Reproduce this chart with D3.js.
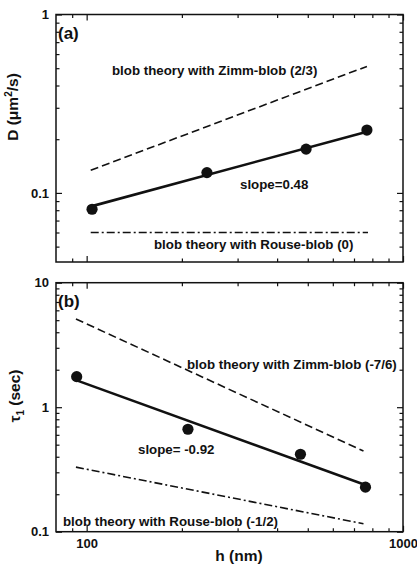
<!DOCTYPE html>
<html>
<head>
<meta charset="utf-8">
<script src="https://cdn.jsdelivr.net/npm/d3@7"></script>
<style>
  html, body { margin: 0; padding: 0; background: #fff; }
  svg text { font-family: "Liberation Sans", Arial, sans-serif; fill: #111; }
</style>
</head>
<body>
<svg id="fig" width="417" height="566"></svg>
<script>
// Measured data: film thickness h (nm)
const hA = [104, 240, 494, 769];
const diffA = [0.081, 0.130, 0.176, 0.225];      // D (um^2/s)
const hB = [93, 209, 474, 761];
const tauB = [1.76, 0.665, 0.419, 0.228];        // tau_1 (sec)

// Fitted power-law slopes
const slopeA = 0.48;
const slopeB = -0.92;

// Blob-theory scaling lines: [h start, h end], value at start, exponent
const zimmA = { h: [103, 769], v0: 0.134, exp: 2 / 3 };
const rouseA = { h: [103, 775], v0: 0.06, exp: 0 };
const zimmB = { h: [92.5, 750], v0: 5.11, exp: -7 / 6 };
const rouseB = { h: [92.5, 750], v0: 0.33, exp: -1 / 2 };

// Axis ticks
const xDomain = [80, 1000];
const xMajor = [100, 1000];
const xMinor = [90, 200, 300, 400, 500, 600, 700, 800, 900];
const yDomainA = [0.041, 1];
const yMajorA = [0.1, 1];
const yMinorA = [0.05, 0.06, 0.07, 0.08, 0.09, 0.2, 0.3, 0.4, 0.5, 0.6, 0.7, 0.8, 0.9];
const yDomainB = [0.1, 10];
const yMajorB = [0.1, 1, 10];
const yMinorB = [0.2, 0.3, 0.4, 0.5, 0.6, 0.7, 0.8, 0.9, 2, 3, 4, 5, 6, 7, 8, 9];

const svg = d3.select("#fig");
const fmt = d => (d >= 1 ? d3.format("d")(d) : String(d));

function powerLine(spec) {
  return spec.h.map(h => [h, spec.v0 * Math.pow(h / spec.h[0], spec.exp)]);
}
function fitLine(hs, vs, slope) {
  const mx = d3.mean(hs, h => Math.log10(h));
  const my = d3.mean(vs, v => Math.log10(v));
  const ends = [hs[0], hs[hs.length - 1]];
  return ends.map(h => [h, Math.pow(10, my + slope * (Math.log10(h) - mx))]);
}

function panel(cfg) {
  const x = d3.scaleLog().domain(xDomain).range([cfg.left, cfg.right]);
  const y = d3.scaleLog().domain(cfg.yDomain).range([cfg.bottom, cfg.top]);
  const g = svg.append("g");

  const addAxis = (axisFn, scale, vals, size, tx, ty, labels) => {
    const ax = axisFn(scale).tickValues(vals).tickSizeInner(-size).tickSizeOuter(0)
      .tickPadding(7).tickFormat(labels ? fmt : "");
    const a = g.append("g").attr("transform", `translate(${tx},${ty})`).call(ax);
    a.select(".domain").remove();
    a.selectAll(".tick line").attr("stroke", "#111").attr("stroke-width", 1.2);
    a.selectAll("text").attr("font-size", 13).attr("font-weight", "bold").style("fill", "#111");
    return a;
  };
  // Inward ticks on all four sides
  addAxis(d3.axisLeft, y, cfg.yMajor, 6, cfg.left, 0, true);
  addAxis(d3.axisLeft, y, cfg.yMinor, 3.5, cfg.left, 0, false);
  addAxis(d3.axisRight, y, cfg.yMajor, 6, cfg.right, 0, false);
  addAxis(d3.axisRight, y, cfg.yMinor, 3.5, cfg.right, 0, false);
  addAxis(d3.axisBottom, x, xMajor, 6, 0, cfg.bottom, cfg.xLabels);
  addAxis(d3.axisBottom, x, xMinor, 3.5, 0, cfg.bottom, false);
  addAxis(d3.axisTop, x, xMajor, 6, 0, cfg.top, false);
  addAxis(d3.axisTop, x, xMinor, 3.5, 0, cfg.top, false);

  g.append("rect")
    .attr("x", cfg.left).attr("y", cfg.top)
    .attr("width", cfg.right - cfg.left).attr("height", cfg.bottom - cfg.top)
    .attr("fill", "none").attr("stroke", "#111").attr("stroke-width", 1.5);

  const line = d3.line().x(d => x(d[0])).y(d => y(d[1]));

  g.append("path").datum(powerLine(cfg.zimm)).attr("d", line)
    .attr("fill", "none").attr("stroke", "#111").attr("stroke-width", 1.6)
    .attr("stroke-dasharray", "8,4");
  g.append("path").datum(powerLine(cfg.rouse)).attr("d", line)
    .attr("fill", "none").attr("stroke", "#111").attr("stroke-width", 1.6)
    .attr("stroke-dasharray", "8,3,2,3");
  g.append("path").datum(fitLine(cfg.h, cfg.v, cfg.slope)).attr("d", line)
    .attr("fill", "none").attr("stroke", "#111").attr("stroke-width", 2.6);

  g.selectAll("circle.pt").data(cfg.h.map((h, i) => [h, cfg.v[i]])).join("circle")
    .attr("class", "pt").attr("cx", d => x(d[0])).attr("cy", d => y(d[1]))
    .attr("r", 5.6).attr("fill", "#111");

  const txt = (s, tx, ty, size, anchor) => g.append("text")
    .attr("x", tx).attr("y", ty).attr("font-size", size).attr("font-weight", "bold")
    .attr("text-anchor", anchor || "start").text(s);

  txt(cfg.tag, cfg.left + 2, cfg.top + 24, 17);
  cfg.notes.forEach(n => txt(n.s, n.x, n.y, 13.3));
  return { g, x, y };
}

const pa = panel({
  left: 56, right: 403, top: 14.5, bottom: 262,
  yDomain: yDomainA, yMajor: yMajorA, yMinor: yMinorA, xLabels: false,
  h: hA, v: diffA, slope: slopeA, zimm: zimmA, rouse: rouseA, tag: "(a)",
  notes: [
    { s: "blob theory with Zimm-blob (2/3)", x: 112, y: 75 },
    { s: "slope=" + slopeA, x: 240, y: 189 },
    { s: "blob theory with Rouse-blob (0)", x: 154, y: 249 }
  ]
});

const pb = panel({
  left: 56, right: 403, top: 282.7, bottom: 531.7,
  yDomain: yDomainB, yMajor: yMajorB, yMinor: yMinorB, xLabels: true,
  h: hB, v: tauB, slope: slopeB, zimm: zimmB, rouse: rouseB, tag: "(b)",
  notes: [
    { s: "blob theory with Zimm-blob (-7/6)", x: 187, y: 369 },
    { s: "slope= " + slopeB, x: 138, y: 454 },
    { s: "blob theory with Rouse-blob (-1/2)", x: 63, y: 526 }
  ]
});

// Axis titles
const ya = svg.append("text").attr("transform", "translate(18,107) rotate(-90)")
  .attr("text-anchor", "middle").attr("font-size", 15.5).attr("font-weight", "bold");
ya.append("tspan").text("D (\u03bcm");
ya.append("tspan").attr("font-size", 10).attr("dy", -6).text("2");
ya.append("tspan").attr("dy", 6).text("/s)");

const yb = svg.append("text").attr("transform", "translate(20,396) rotate(-90)")
  .attr("text-anchor", "middle").attr("font-size", 15.5).attr("font-weight", "bold");
yb.append("tspan").text("\u03c4");
yb.append("tspan").attr("font-size", 10).attr("dy", 4).text("1");
yb.append("tspan").attr("dy", -4).text(" (sec)");

svg.append("text").attr("x", 239).attr("y", 561).attr("text-anchor", "middle")
  .attr("font-size", 15.5).attr("font-weight", "bold").text("h (nm)");
</script>
</body>
</html>
